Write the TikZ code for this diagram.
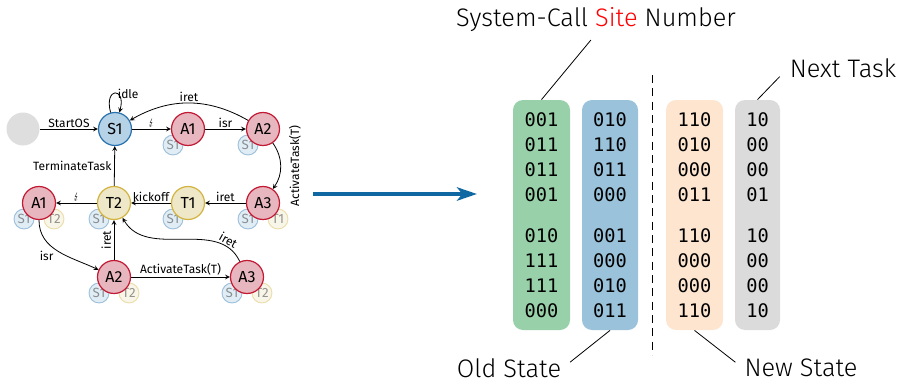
\documentclass[tikz,border=0pt]{standalone}
\usepackage{fontspec}
\usepackage{stmaryrd}
\setmainfont{Fira Sans}
\IfFontExistsTF{FiraSans-Light}{\newfontfamily\thinfont{FiraSans-Light}}{%
  \IfFontExistsTF{Fira Sans Light}{\newfontfamily\thinfont{Fira Sans Light}}{%
    \newfontfamily\thinfont{Fira Sans}}}
\newfontfamily\codefont{DejaVu Sans Mono}
\usetikzlibrary{arrows.meta,positioning,backgrounds,calc}

\definecolor{sblue}{HTML}{2A72AE}
\definecolor{sfill}{HTML}{B5D2E6}
\definecolor{ared}{HTML}{C21A34}
\definecolor{afill}{HTML}{E8B6BE}
\definecolor{tgold}{HTML}{D3B440}
\definecolor{tfill}{HTML}{EEE7C8}
\definecolor{sitegreen}{HTML}{98D1A9}
\definecolor{oldblue}{HTML}{9AC2DA}
\definecolor{newpeach}{HTML}{FEE5CF}
\definecolor{nextgray}{HTML}{DBDBDB}
\definecolor{flow}{HTML}{0F68A2}

\tikzset{
  state/.style={circle,minimum size=24.75pt,inner sep=0pt,line width=.9pt,font=\fontsize{12}{14}\selectfont},
  init/.style={state,fill=black!13},
  snode/.style={state,draw=sblue,fill=sfill},
  anode/.style={state,draw=ared,fill=afill},
  tnode/.style={state,draw=tgold,fill=tfill},
  tag/.style={circle,minimum size=15pt,inner sep=0pt,line width=.7pt,opacity=.4,font=\fontsize{10}{11}\selectfont},
  stag/.style={tag,draw=sblue,fill=sfill},
  ttag/.style={tag,draw=tgold,fill=tfill},
  col/.style={rounded corners=7.5pt,minimum height=172.5pt,inner sep=0pt,align=center,
    font=\codefont\fontsize{14}{18.75}\selectfont},
  biglabel/.style={font=\thinfont\fontsize{19}{22}\selectfont,inner sep=1pt},
  pointer/.style={line width=.6pt}
}

\begin{document}
\begin{tikzpicture}[x=.75pt,y=.75pt,>=stealth,line width=.6pt,font=\fontsize{9}{10}\selectfont]
\useasboundingbox (0,0) rectangle (899,383);

% state machine
\node[init] (start) at (23,254) {};
\node[snode] (s1) at (115,254) {S1};
\node[anode] (a1) at (188,254) {A1};
\node[anode] (a2) at (263,254) {A2};
\node[anode] (a3) at (263,180) {A3};
\node[tnode] (t1) at (188,180) {T1};
\node[tnode] (t2) at (114,180) {T2};
\node[anode] (b1) at (39,180) {A1};
\node[anode] (b2) at (114,106) {A2};
\node[anode] (b3) at (247,106) {A3};

% task stack below each state
\begin{scope}[on background layer]
  \foreach \n in {a1,a2,a3,t1,t2,b1,b2,b3}{
    \node[stag] (s\n) at ($(\n)+(-15,-16)$) {S1};
  }
  \node[ttag] (ta3) at ($(a3)+(15,-16)$) {T1};
  \foreach \n in {b1,b2,b3}{
    \node[ttag] (t\n) at ($(\n)+(15,-16)$) {T2};
  }
\end{scope}

\draw[->] (start) -- node[above,inner sep=1pt]{StartOS} (s1);
\draw[->] (s1) to[loop above,min distance=7mm] node[right,inner sep=1pt,pos=.55]{idle} (s1);
\draw[->] (s1) -- node[above,inner sep=1pt]{\scriptsize$\lightning$} (a1);
\draw[->] (a1) -- node[above,inner sep=1pt]{isr} (a2);
\draw[->] (a2) to[bend right=30] node[above,inner sep=1pt]{iret} (s1);
\draw[->] (a2) to[bend left=35] node[midway,rotate=90,anchor=north,inner sep=6pt]{ActivateTask(T)} (a3);
\draw[->] (a3) -- node[above,inner sep=1pt]{iret} (t1);
\draw[->] (t1) -- node[above,inner sep=1pt]{kickoff} (t2);
\draw[->] (t2) -- node[left,inner sep=2pt]{TerminateTask} (s1);
\draw[->] (t2) -- node[above,inner sep=1pt]{\scriptsize$\lightning$} (b1);
\draw[->] (b1) to[out=-90,in=155] node[below left,inner sep=1pt,pos=.45]{isr} (b2);
\draw[->] (b2) -- node[midway,rotate=90,anchor=south,inner sep=2pt]{iret} (t2);
\draw[->] (b2) -- node[above,inner sep=1pt]{ActivateTask(T)} (b3);
\draw[->] (b3) to[out=115,in=-60] node[above,sloped,pos=.17,inner sep=1pt]{iret} (t2);

% arrow over to the lookup table
\coordinate (from) at (313,189);
\coordinate (to) at (477,189);
\draw[flow,line width=3.6pt,-{Stealth[length=15pt,width=10pt,inset=4pt]}] (from) -- (to);

% table columns
\node[col,fill=sitegreen,minimum width=42.75pt] (site) at (541.5,168)
  {001\\011\\011\\001\\[12pt]010\\111\\111\\000};
\node[col,fill=oldblue,minimum width=42pt] (oldst) at (610,168)
  {010\\110\\011\\000\\[12pt]001\\000\\010\\011};
\node[col,fill=newpeach,minimum width=42.75pt] (newst) at (694.5,168)
  {110\\010\\000\\011\\[12pt]110\\000\\000\\110};
\node[col,fill=nextgray,minimum width=33.75pt] (next) at (757.5,168)
  {10\\00\\00\\01\\[12pt]10\\00\\00\\10};
\draw[dash pattern=on 6pt off 4pt,line width=.75pt] (652,308) -- (652,28);

% labels
\node[biglabel] (sitelbl) at (596,363) {System-Call {\color{red}Site} Number};
\node[biglabel] (nextlbl) at (843,315) {Next Task};
\node[biglabel] (oldlbl) at (509,15) {Old State};
\node[biglabel] (newlbl) at (801,15) {New State};
\draw[pointer,shorten <=6pt] (sitelbl.south) -- (site.north);
\draw[pointer,shorten <=9pt] (nextlbl.west) -- (next.north);
\draw[pointer,shorten <=7pt] (oldlbl.east) -- (oldst.south);
\draw[pointer,shorten >=7pt] (newst.south) -- (newlbl.west);
\end{tikzpicture}
\end{document}
